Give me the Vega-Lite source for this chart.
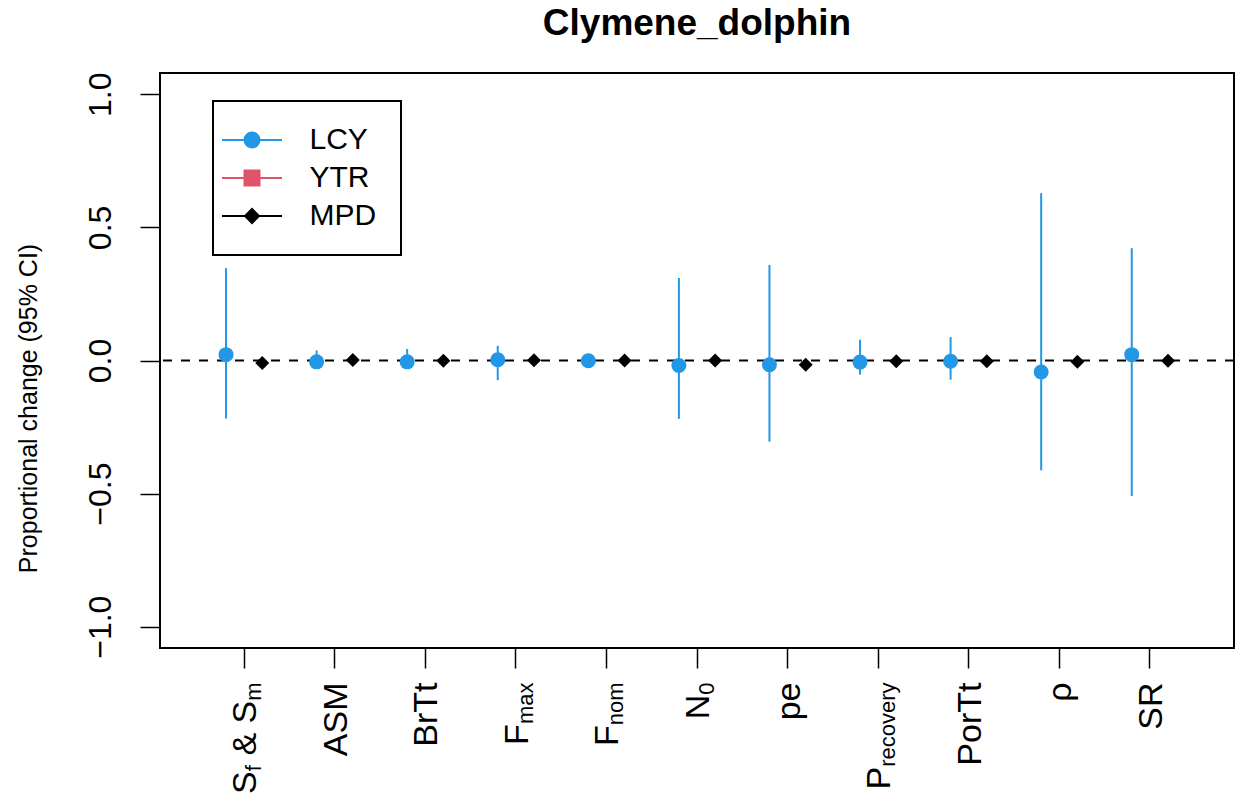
{
  "$schema": "https://vega.github.io/schema/vega-lite/v6.json",
  "width": 1074,
  "height": 575,
  "autosize": "none",
  "padding": {"left": 160, "top": 73, "right": 10, "bottom": 151},
  "config": {
    "font": "Liberation Sans",
    "view": {"stroke": "black", "strokeWidth": 2},
    "legend": {"strokeWidth": 2},
    "axisY": {
      "domain": false, "grid": false,
      "tickSize": 20, "tickWidth": 1.5, "tickColor": "black",
      "labelAngle": -90, "labelAlign": "center", "labelBaseline": "alphabetic",
      "labelPadding": 30, "labelFont": "Liberation Sans", "labelFontSize": 32, "labelColor": "black",
      "labelOverlap": false,
      "titleFont": "Liberation Sans", "titleFontSize": 25,
      "titleFontWeight": "normal", "titleColor": "black", "titlePadding": 43, "titleY": 335
    }
  },
  "title": {
    "text": "Clymene_dolphin",
    "font": "Liberation Sans",
    "fontSize": 37,
    "fontWeight": "bold",
    "color": "black",
    "anchor": "middle",
    "frame": "group",
    "baseline": "alphabetic",
    "offset": 0
  },
  "datasets": {
    "est": [
      {"param": "S_f & S_m", "series": "LCY", "est": 0.022, "lo": -0.218, "hi": 0.347},
      {"param": "ASM", "series": "LCY", "est": -0.005, "lo": -0.025, "hi": 0.038},
      {"param": "BrTt", "series": "LCY", "est": -0.005, "lo": -0.025, "hi": 0.043},
      {"param": "F_max", "series": "LCY", "est": 0.003, "lo": -0.074, "hi": 0.055},
      {"param": "F_nom", "series": "LCY", "est": -0.001, "lo": -0.015, "hi": 0.012},
      {"param": "N_0", "series": "LCY", "est": -0.019, "lo": -0.219, "hi": 0.31},
      {"param": "pe", "series": "LCY", "est": -0.016, "lo": -0.305, "hi": 0.359},
      {"param": "P_recovery", "series": "LCY", "est": -0.006, "lo": -0.053, "hi": 0.078},
      {"param": "PorTt", "series": "LCY", "est": -0.003, "lo": -0.072, "hi": 0.088},
      {"param": "rho", "series": "LCY", "est": -0.043, "lo": -0.412, "hi": 0.628},
      {"param": "SR", "series": "LCY", "est": 0.022, "lo": -0.509, "hi": 0.422},
      {"param": "S_f & S_m", "series": "MPD", "est": -0.009},
      {"param": "ASM", "series": "MPD", "est": 0.002},
      {"param": "BrTt", "series": "MPD", "est": -0.001},
      {"param": "F_max", "series": "MPD", "est": 0.001},
      {"param": "F_nom", "series": "MPD", "est": 0.0},
      {"param": "N_0", "series": "MPD", "est": 0.0},
      {"param": "pe", "series": "MPD", "est": -0.016},
      {"param": "P_recovery", "series": "MPD", "est": -0.003},
      {"param": "PorTt", "series": "MPD", "est": -0.003},
      {"param": "rho", "series": "MPD", "est": -0.005},
      {"param": "SR", "series": "MPD", "est": -0.001}
    ]
  },
  "data": {"name": "est"},
  "layer": [
    {
      "data": {"values": [{"ref": 0}]},
      "mark": {"type": "rule", "color": "black", "strokeWidth": 2, "strokeDash": [9, 9]},
      "encoding": {
        "y": {"field": "ref", "type": "quantitative", "scale": {"domain": [-1.08, 1.08], "nice": false, "zero": false}, "axis": {"title": "Proportional change (95% CI)", "values": [-1, -0.5, 0, 0.5, 1], "format": ".1f"}}
      }
    },
    {
      "transform": [{"filter": "datum.series == 'LCY'"}],
      "mark": {"type": "rule", "color": "#2297E6", "strokeWidth": 2},
      "encoding": {
        "x": {
          "field": "param", "type": "nominal",
          "scale": {"type": "band", "domain": ["S_f & S_m", "ASM", "BrTt", "F_max", "F_nom", "N_0", "pe", "P_recovery", "PorTt", "rho", "SR"], "paddingInner": 0, "paddingOuter": 0.429, "align": 0.5},
          "axis": {
            "orient": "bottom", "title": null, "domain": false, "grid": false,
            "ticks": true, "tickSize": 20, "tickWidth": 1.5, "tickColor": "black",
            "labelAngle": -90, "labelAlign": "right", "labelBaseline": "middle",
            "labelFont": "Liberation Sans", "labelFontSize": 34, "labelColor": "black",
            "labelOverlap": false, "labelLimit": 0, "labelFlush": false, "labelBound": false,
            "labelOffset": 2,
            "labelExpr": "datum.value == 'S_f & S_m' ? ' & S' : datum.value == 'F_max' ? 'F' : datum.value == 'F_nom' ? 'F' : datum.value == 'N_0' ? 'N' : datum.value == 'P_recovery' ? 'P' : datum.value == 'rho' ? 'ρ' : datum.value",
            "labelPadding": {"expr": "datum.value == 'S_f & S_m' ? 32.3 : datum.value == 'F_max' ? 55.6 : datum.value == 'F_nom' ? 56.8 : datum.value == 'N_0' ? 26.2 : datum.value == 'P_recovery' ? 98.3 : 14"}
          }
        },
        "xOffset": {"field": "series", "type": "nominal", "scale": {"type": "band", "domain": ["LCY", "YTR", "MPD"], "paddingInner": 0, "paddingOuter": 1}},
        "y": {"field": "lo", "type": "quantitative", "scale": {"domain": [-1.08, 1.08], "nice": false, "zero": false}, "axis": {"title": "Proportional change (95% CI)", "values": [-1, -0.5, 0, 0.5, 1], "format": ".1f"}},
        "y2": {"field": "hi"}
      }
    },
    {
      "transform": [{"filter": "datum.series == 'LCY'"}],
      "mark": {"type": "point", "filled": true, "shape": "circle", "size": 225, "color": "#2297E6", "opacity": 1},
      "encoding": {
        "x": {
          "field": "param", "type": "nominal",
          "scale": {"type": "band", "domain": ["S_f & S_m", "ASM", "BrTt", "F_max", "F_nom", "N_0", "pe", "P_recovery", "PorTt", "rho", "SR"], "paddingInner": 0, "paddingOuter": 0.429, "align": 0.5},
          "axis": {
            "orient": "bottom", "title": null, "domain": false, "grid": false,
            "ticks": true, "tickSize": 20, "tickOpacity": 0,
            "labelAngle": -90, "labelAlign": "right", "labelBaseline": "middle",
            "labelFont": "Liberation Sans", "labelFontSize": 22, "labelColor": "black",
            "labelOverlap": false, "labelLimit": 0, "labelFlush": false, "labelBound": false,
            "labelOffset": 10, "labelPadding": 14,
            "labelExpr": "datum.value == 'S_f & S_m' ? 'm' : datum.value == 'F_max' ? 'max' : datum.value == 'F_nom' ? 'nom' : datum.value == 'N_0' ? '0' : datum.value == 'P_recovery' ? 'recovery' : ''"
          }
        },
        "xOffset": {"field": "series", "type": "nominal", "scale": {"type": "band", "domain": ["LCY", "YTR", "MPD"], "paddingInner": 0, "paddingOuter": 1}},
        "y": {"field": "est", "type": "quantitative", "scale": {"domain": [-1.08, 1.08], "nice": false, "zero": false}, "axis": {"title": "Proportional change (95% CI)", "values": [-1, -0.5, 0, 0.5, 1], "format": ".1f"}}
      }
    },
    {
      "transform": [{"filter": "datum.series == 'MPD'"}],
      "mark": {"type": "point", "filled": true, "shape": "diamond", "size": 196, "color": "black", "opacity": 1},
      "encoding": {
        "x": {
          "field": "param", "type": "nominal",
          "scale": {"type": "band", "domain": ["S_f & S_m", "ASM", "BrTt", "F_max", "F_nom", "N_0", "pe", "P_recovery", "PorTt", "rho", "SR"], "paddingInner": 0, "paddingOuter": 0.429, "align": 0.5},
          "axis": {
            "orient": "bottom", "title": null, "domain": false, "grid": false,
            "ticks": true, "tickSize": 20, "tickOpacity": 0,
            "labelAngle": -90, "labelAlign": "right", "labelBaseline": "middle",
            "labelFont": "Liberation Sans", "labelFontSize": 34, "labelColor": "black",
            "labelOverlap": false, "labelLimit": 0, "labelFlush": false, "labelBound": false,
            "labelOffset": 2, "labelPadding": 102.7,
            "labelExpr": "datum.value == 'S_f & S_m' ? 'S' : ''"
          }
        },
        "xOffset": {"field": "series", "type": "nominal", "scale": {"type": "band", "domain": ["LCY", "YTR", "MPD"], "paddingInner": 0, "paddingOuter": 1}},
        "y": {"field": "est", "type": "quantitative", "scale": {"domain": [-1.08, 1.08], "nice": false, "zero": false}, "axis": {"title": "Proportional change (95% CI)", "values": [-1, -0.5, 0, 0.5, 1], "format": ".1f"}}
      }
    },
    {
      "transform": [{"filter": "datum.series == 'YTR'"}],
      "mark": {"type": "point", "filled": true, "opacity": 1},
      "encoding": {
        "x": {
          "field": "param", "type": "nominal",
          "scale": {"type": "band", "domain": ["S_f & S_m", "ASM", "BrTt", "F_max", "F_nom", "N_0", "pe", "P_recovery", "PorTt", "rho", "SR"], "paddingInner": 0, "paddingOuter": 0.429, "align": 0.5},
          "axis": {
            "orient": "bottom", "title": null, "domain": false, "grid": false,
            "ticks": true, "tickSize": 20, "tickOpacity": 0,
            "labelAngle": -90, "labelAlign": "right", "labelBaseline": "middle",
            "labelFont": "Liberation Sans", "labelFontSize": 22, "labelColor": "black",
            "labelOverlap": false, "labelLimit": 0, "labelFlush": false, "labelBound": false,
            "labelOffset": 10, "labelPadding": 96.6,
            "labelExpr": "datum.value == 'S_f & S_m' ? 'f' : ''"
          }
        },
        "xOffset": {"field": "series", "type": "nominal", "scale": {"type": "band", "domain": ["LCY", "YTR", "MPD"], "paddingInner": 0, "paddingOuter": 1}},
        "y": {"field": "est", "type": "quantitative", "scale": {"domain": [-1.08, 1.08], "nice": false, "zero": false}, "axis": {"title": "Proportional change (95% CI)", "values": [-1, -0.5, 0, 0.5, 1], "format": ".1f"}},
        "color": {
          "field": "series", "type": "nominal",
          "scale": {"domain": ["LCY", "YTR", "MPD"], "range": ["#2297E6", "#DF536B", "#000000"]},
          "legend": {
            "orient": "none", "legendX": 53, "legendY": 28, "title": null,
            "strokeColor": "black", "padding": 24, "rowPadding": 8,
            "symbolSize": 225, "symbolStrokeWidth": 2, "symbolOffset": 0, "symbolOpacity": 1,
            "labelFont": "Liberation Sans", "labelFontSize": 30, "labelColor": "black", "labelOffset": 42.5, "labelLimit": 0
          }
        },
        "stroke": {
          "field": "series", "type": "nominal",
          "scale": {"domain": ["LCY", "YTR", "MPD"], "range": ["#2297E6", "#DF536B", "#000000"]}
        },
        "shape": {
          "field": "series", "type": "nominal",
          "scale": {"domain": ["LCY", "YTR", "MPD"], "range": [
            "M-4,0H4M1,0A1,1,0,1,1,-1,0A1,1,0,1,1,1,0Z",
            "M-4,0H4M-1,-1H1V1H-1Z",
            "M-4,0H4M0,-0.93L0.93,0L0,0.93L-0.93,0Z"
          ]}
        }
      }
    }
  ],
  "resolve": {"axis": {"x": "independent"}, "scale": {"x": "shared"}}
}
